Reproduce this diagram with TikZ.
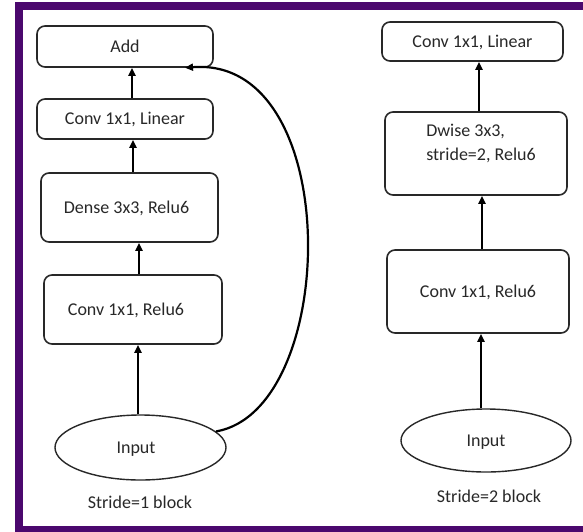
\documentclass[tikz,border=0pt]{standalone}
\usepackage{fontspec}
\setmainfont{Carlito}
\usetikzlibrary{arrows.meta,shapes.geometric}
\definecolor{framepurple}{RGB}{75,8,110}
\definecolor{ink}{RGB}{40,40,40}

\begin{document}
\begin{tikzpicture}[x=1pt,y=-1pt,
  every node/.style={font=\fontsize{18}{24}\selectfont, text=ink},
  block/.style={draw=ink, line width=1.6pt, rounded corners=8pt,
    text height=11.6pt, text depth=0pt, inner sep=0pt},
  terminal/.style={draw=ink, line width=1.4pt, ellipse, inner sep=0pt,
    text height=11.6pt, text depth=0pt},
  caption/.style={text height=11.6pt, text depth=0pt, inner sep=0pt},
  flow/.style={line width=2.6pt, draw=black, -{Triangle[length=8pt,width=7pt]}}
]
\useasboundingbox (0,0) rectangle (583,531);
\fill[white] (0,0) rectangle (583,531);
\draw[framepurple, line width=8pt] (19,6) rectangle (600,530);

% stride = 1 block
\node[block, minimum width=176pt, minimum height=41pt] (add) at (125,46.5) {Add};
\node[block, minimum width=176pt, minimum height=40pt] (lin1) at (125,119) {Conv 1x1, Linear};
\node[block, minimum width=177pt, minimum height=69pt] (dense) at (129.5,207.5) {};
\node[caption] (densetext) at ([xshift=-3pt]dense.center) {Dense 3x3, Relu6};
\node[block, minimum width=178pt, minimum height=69pt] (conv1) at (133,309.5) {};
\node[caption] (conv1text) at ([xshift=-7pt]conv1.center) {Conv 1x1, Relu6};
\node[terminal, minimum width=171pt, minimum height=65pt] (in1) at (140.5,447.5) {};
\node[caption] (in1text) at ([xshift=-4.5pt]in1.center) {Input};
\node[caption] (cap1) at (140,503) {Stride=1 block};

\draw[flow] ([xshift=-2.5pt]in1.north) -- ([xshift=5pt]conv1.south);
\draw[flow] ([xshift=6pt]conv1.north) -- ([xshift=9.5pt]dense.south);
\draw[flow] ([xshift=3.5pt]dense.north) -- ([xshift=8pt]lin1.south);
\draw[flow] ([xshift=7pt]lin1.north) -- ([xshift=7pt]add.south);
\draw[flow, line width=2.2pt] (in1.12) .. controls (340,410) and (345,55) .. ([xshift=60pt]add.south);

% stride = 2 block
\node[block, minimum width=181pt, minimum height=39pt] (lin2) at (472.5,41.5) {Conv 1x1, Linear};
\node[block, minimum width=182pt, minimum height=83pt] (dw) at (476,153.5) {};
\node[caption, align=left] (dwtext) at ([xshift=5pt,yshift=-1.5pt]dw.center) {Dwise 3x3,\\stride=2, Relu6};
\node[block, minimum width=182pt, minimum height=83pt] (conv2) at (478,291.5) {Conv 1x1, Relu6};
\node[terminal, minimum width=170pt, minimum height=63pt] (in2) at (486,440.5) {Input};
\node[caption] (cap2) at (489,497) {Stride=2 block};

\draw[flow] ([xshift=-5pt]in2.north) -- ([xshift=3pt]conv2.south);
\draw[flow] ([xshift=4pt]conv2.north) -- ([xshift=6pt]dw.south);
\draw[flow] ([xshift=3pt]dw.north) -- ([xshift=6.5pt]lin2.south);
\end{tikzpicture}
\end{document}
